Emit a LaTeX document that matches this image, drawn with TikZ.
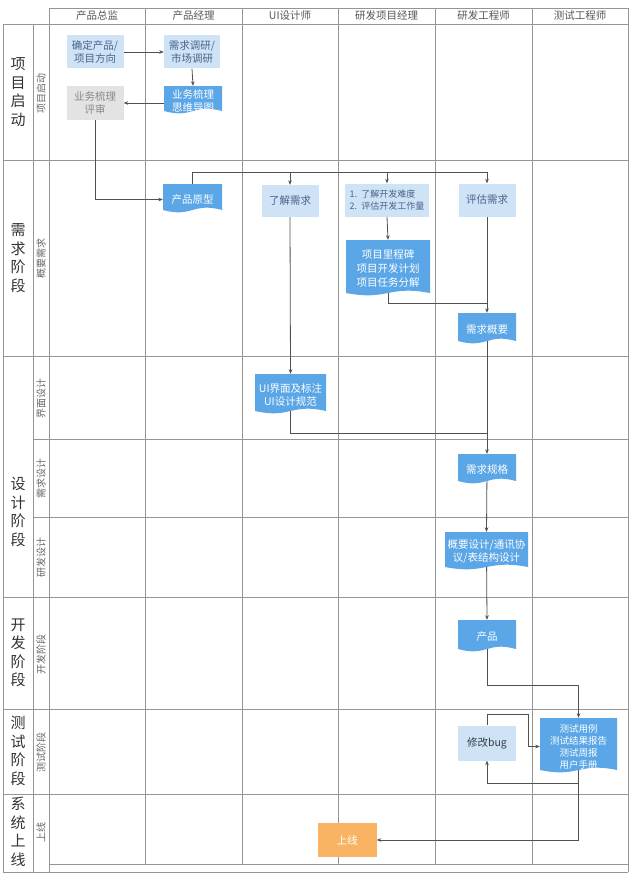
\documentclass[tikz,border=0pt]{standalone}
\usepackage{fontspec}
\setmainfont{Noto Sans CJK SC}
\usetikzlibrary{arrows.meta}
\pgfdeclarelayer{bg}
\pgfsetlayers{bg,main}
\definecolor{gridc}{HTML}{959595}
\definecolor{hdrc}{HTML}{555555}
\definecolor{phasec}{HTML}{333333}
\definecolor{subc}{HTML}{666666}
\definecolor{lightfill}{HTML}{CFE3F7}
\definecolor{lighttext}{HTML}{4A6489}
\definecolor{docblue}{HTML}{5AA6E6}
\definecolor{grayfill}{HTML}{E3E3E3}
\definecolor{graytext}{HTML}{8A8A8A}
\definecolor{orangefill}{HTML}{F9B463}
\definecolor{linec}{HTML}{505050}
% #1 font, #2 name, #3 left, #4 top, #5 right, #6 bottom, #7 text
\newcommand\docnode[7][\fontsize{10.5}{13}\selectfont]{%
  \fill[docblue] (#3,#4) -- (#5,#4) -- (#5,#6-5)
    .. controls ({(#3+#5)/2},#6-13) and ({(#3+#5)/2},#6+3) .. (#3,#6-5) -- cycle;
  \node[doctext, font=#1, minimum width={(#5-#3)*1pt}, minimum height={(#6-#4)*1pt}]
    (#2) at ({(#3+#5)/2},{(#4+#6)/2}) {#7};
}
\begin{document}
\begin{tikzpicture}[x=1pt,y=-1pt,
  grid/.style={draw=gridc, line width=0.6pt},
  hdr/.style={text=hdrc, font=\fontsize{10.5}{12}\selectfont, inner sep=0pt},
  phase/.style={text=phasec, align=center, font=\fontsize{15}{18.5}\selectfont, inner sep=0pt},
  sublane/.style={text=subc, rotate=90, font=\fontsize{10}{11}\selectfont, inner sep=0pt},
  lbox/.style={fill=lightfill, text=lighttext, align=center, inner sep=0pt, font=\fontsize{10.5}{13}\selectfont},
  gbox/.style={fill=grayfill, text=graytext, align=center, inner sep=0pt, font=\fontsize{10.5}{13}\selectfont},
  obox/.style={fill=orangefill, text=white, align=center, inner sep=0pt, font=\fontsize{10.5}{13}\selectfont},
  doctext/.style={text=white, align=center, inner sep=0pt},
  conn/.style={draw=linec, line width=0.8pt},
  arr/.style={conn, -{Stealth[length=4.5pt,width=3.6pt]}},
]
\useasboundingbox (0,0) rectangle (640,891);

% ---------- grid ----------
\begin{pgfonlayer}{bg}
\draw[grid] (49,8) -- (628,8);
\draw[grid] (3,24) -- (628,24);
\foreach \yy in {160,356,597,709,794} \draw[grid] (3,\yy) -- (628,\yy);
\foreach \yy in {439,517} \draw[grid] (33,\yy) -- (628,\yy);
\draw[grid] (49,864) -- (628,864);
\draw[grid] (3,872) -- (628,872);
\draw[grid] (3,24) -- (3,872);
\draw[grid] (33,24) -- (33,872);
\draw[grid] (49,8) -- (49,872);
\foreach \xx in {145,242,338,435,532} \draw[grid] (\xx,8) -- (\xx,864);
\draw[grid] (628,8) -- (628,872);
\end{pgfonlayer}

% ---------- headers ----------
\node[hdr] (h1) at (97,16) {产品总监};
\node[hdr] (h2) at (193.5,16) {产品经理};
\node[hdr] (h3) at (290,16) {UI设计师};
\node[hdr] (h4) at (386.5,16) {研发项目经理};
\node[hdr] (h5) at (483.5,16) {研发工程师};
\node[hdr] (h6) at (580,16) {测试工程师};

% ---------- phases ----------
\node[phase] (p1) at (18,92) {项\\目\\启\\动};
\node[phase] (p2) at (18,258) {需\\求\\阶\\段};
\node[phase] (p3) at (18,512) {设\\计\\阶\\段};
\node[phase] (p4) at (18,653) {开\\发\\阶\\段};
\node[phase] (p5) at (18,751) {测\\试\\阶\\段};
\node[phase] (p6) at (18,832) {系\\统\\上\\线};

% ---------- sub lanes ----------
\node[sublane] (s1) at (41,93) {项目启动};
\node[sublane] (s2) at (41,258) {概要需求};
\node[sublane] (s3) at (41,398) {界面设计};
\node[sublane] (s4) at (41,478) {需求设计};
\node[sublane] (s5) at (41,557) {研发设计};
\node[sublane] (s6) at (41,654) {开发阶段};
\node[sublane] (s7) at (41,752) {测试阶段};
\node[sublane] (s8) at (41,832) {上线};

% ---------- nodes ----------
\node[lbox, minimum width=57pt, minimum height=33pt] (n1) at (95,52) {确定产品/\\项目方向};
\node[lbox, minimum width=56pt, minimum height=33pt] (n2) at (192,52) {需求调研/\\市场调研};
\docnode{n3}{164}{86}{222}{116}{业务梳理\\思维导图}
\node[gbox, minimum width=57pt, minimum height=34pt] (n4) at (95,103) {业务梳理\\评审};
\docnode{n5}{163}{184}{222}{215}{产品原型}
\node[lbox, minimum width=57pt, minimum height=32pt] (n6) at (290,201) {了解需求};
\node[lbox, minimum width=84pt, minimum height=33pt, align=left, font=\fontsize{9}{12}\selectfont] (n7) at (387,200) {1.\ \ 了解开发难度\\2.\ \ 评估开发工作量};
\node[lbox, minimum width=57pt, minimum height=33pt] (n8) at (487,200) {评估需求};
\docnode[\fontsize{10.5}{14}\selectfont]{n9}{346}{240}{430}{298}{项目里程碑\\项目开发计划\\项目任务分解}
\docnode{n10}{458}{313}{516}{346}{需求概要}
\docnode{n11}{255}{374}{326}{416}{UI界面及标注\\UI设计规范}
\docnode{n12}{458}{454}{516}{486}{需求规格}
\docnode{n13}{445}{532}{528}{572}{概要设计/通讯协\\议/表结构设计}
\docnode{n14}{458}{620}{516}{654}{产品}
\docnode[\fontsize{9.5}{12}\selectfont]{n15}{540}{718}{617}{775}{测试用例\\测试结果报告\\测试周报\\用户手册}
\node[lbox, minimum width=58pt, minimum height=35pt, text=phasec!80!lighttext] (n16) at (487,743) {修改bug};
\node[obox, minimum width=59pt, minimum height=34pt] (n17) at (347,840) {上线};

% ---------- connectors ----------
\begin{pgfonlayer}{bg}
\coordinate (m1) at (0,172);
\coordinate (m2) at (0,303);
\coordinate (m3) at (0,433);
\coordinate (m4) at (0,685);
\coordinate (m5) at (0,783);
\coordinate (m6) at (528,714);
\draw[arr] (n1.east) -- (n2.west);
\draw[arr] (n2.south) -- (n3.north);
\draw[arr] (n3.west |- n4.east) -- (n4.east);
\draw[arr] (n4.south) |- (n5.west);
\draw[arr] (n5.center) |- (n8.north |- m1) -- (n8.north);
\draw[arr] (n6.north |- m1) -- (n6.north);
\draw[arr] (n7.north |- m1) -- (n7.north);
\draw[arr] (n6.south) -- (n11.north);
\draw[arr] (n7.south) -- (n9.north);
\draw[arr] (n8.south) -- (n10.north);
\draw[conn] (n9.center) |- (n10.north |- m2);
\draw[arr] (n10.center) -- (n12.north);
\draw[conn] (n11.center) |- (n12.north |- m3);
\draw[arr] (n12.center) -- (n13.north);
\draw[arr] (n13.center) -- (n14.north);
\draw[arr] (n14.center) |- (n15.north |- m4) -- (n15.north);
\draw[arr] (n15.center) |- (n17.east);
\draw[arr] (n15.center |- m5) -| (n16.south);
\draw[arr] (n16.north) |- (m6) |- (n15.west);
\end{pgfonlayer}
\end{tikzpicture}
\end{document}
